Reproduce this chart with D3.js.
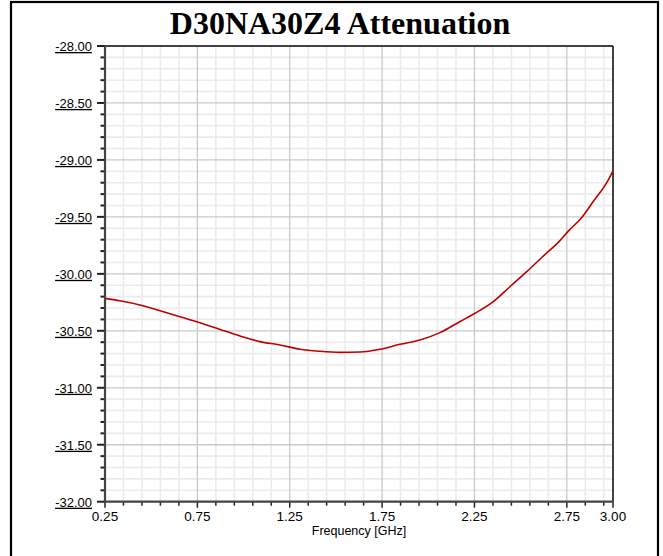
<!DOCTYPE html>
<html><head><meta charset="utf-8">
<script src="https://cdn.jsdelivr.net/npm/d3@7"></script>
<style>body{margin:0;background:#fff}svg{display:block}</style>
</head><body>
<svg id="c" width="663" height="556"></svg>
<script>
const title = "D30NA30Z4 Attenuation";
const xLabel = "Frequency [GHz]";
const xTickValues = [0.25, 0.75, 1.25, 1.75, 2.25, 2.75, 3.00];
const yTickValues = [-28, -28.5, -29, -29.5, -30, -30.5, -31, -31.5, -32];
const freq = [0.25,0.331,0.439,0.548,0.656,0.764,0.873,0.981,1.089,1.197,1.306,1.414,1.522,1.630,1.739,1.847,1.955,2.063,2.172,2.253,2.352,2.442,2.533,2.623,2.713,2.758,2.831,2.893,2.966,3.0];
const atten = [-30.215,-30.236,-30.273,-30.323,-30.376,-30.429,-30.488,-30.545,-30.595,-30.624,-30.662,-30.680,-30.689,-30.686,-30.662,-30.618,-30.581,-30.516,-30.418,-30.346,-30.244,-30.113,-29.981,-29.843,-29.708,-29.625,-29.505,-29.365,-29.200,-29.095];

const svg = d3.select("#c");
const L=105, R=613, T=46, B=501.7;
const x = d3.scaleLinear().domain([0.25,3.0]).range([L,R]);
const y = d3.scaleLinear().domain([-32,-28]).range([B,T]);

// outer frame
svg.append("rect").attr("x",11).attr("y",2).attr("width",647).attr("height",600)
  .attr("fill","none").attr("stroke","#000").attr("stroke-width",2.2);

const minorX = d3.range(0,28).map(i=>+(0.25+i*0.1).toFixed(2)).filter(v=>v<=3.0).concat([3.0]);
const minorY = d3.range(0,41).map(i=>+(-32+i*0.1).toFixed(2));
const isMajorX = v => xTickValues.some(m=>Math.abs(m-v)<1e-6);
const isMajorY = v => yTickValues.some(m=>Math.abs(m-v)<1e-6);

const g = svg.append("g");
// minor grid
g.selectAll(".mgx").data(minorX.filter(v=>!isMajorX(v))).join("line")
  .attr("x1",d=>x(d)).attr("x2",d=>x(d)).attr("y1",T).attr("y2",B)
  .attr("stroke","#ebebeb").attr("stroke-width",1.6);
g.selectAll(".mgy").data(minorY.filter(v=>!isMajorY(v))).join("line")
  .attr("y1",d=>y(d)).attr("y2",d=>y(d)).attr("x1",L).attr("x2",R)
  .attr("stroke","#ebebeb").attr("stroke-width",1.6);
// major grid
g.selectAll(".Mgx").data(xTickValues).join("line")
  .attr("x1",d=>x(d)).attr("x2",d=>x(d)).attr("y1",T).attr("y2",B)
  .attr("stroke","#cacaca").attr("stroke-width",1.3);
g.selectAll(".Mgy").data(yTickValues).join("line")
  .attr("y1",d=>y(d)).attr("y2",d=>y(d)).attr("x1",L).attr("x2",R)
  .attr("stroke","#cacaca").attr("stroke-width",1.3);

// plot border top/right
svg.append("line").attr("x1",L).attr("x2",R).attr("y1",T).attr("y2",T).attr("stroke","#111").attr("stroke-width",1.5);
svg.append("line").attr("x1",R).attr("x2",R).attr("y1",T).attr("y2",B).attr("stroke","#111").attr("stroke-width",1.5);

// data line
const line = d3.line().x((d,i)=>x(freq[i])).y(d=>y(d)).curve(d3.curveMonotoneX);
svg.append("path").attr("d",line(atten)).attr("fill","none").attr("stroke","#c00000").attr("stroke-width",1.6);

// y axis
const ya = svg.append("g").attr("transform",`translate(${L},0)`);
ya.selectAll(".yt").data(minorY).join("line")
  .attr("x1",d=>isMajorY(d)?-8:-4.5).attr("x2",0).attr("y1",d=>y(d)).attr("y2",d=>y(d))
  .attr("stroke","#222").attr("stroke-width",2);
ya.append("line").attr("x1",0).attr("x2",0).attr("y1",T).attr("y2",B+1).attr("stroke","#444").attr("stroke-width",2.2);
ya.selectAll(".yl").data(yTickValues).join("text")
  .attr("x",-13).attr("y",d=>y(d)+5).attr("text-anchor","end")
  .attr("font-family","Liberation Sans, Arial, sans-serif").attr("font-size",13)
  .attr("text-decoration","underline").attr("fill","#000")
  .text(d=>d.toFixed(2));

// x axis
const xa = svg.append("g").attr("transform",`translate(0,${B})`);
xa.selectAll(".xt").data(minorX).join("line")
  .attr("x1",d=>x(d)).attr("x2",d=>x(d)).attr("y1",0).attr("y2",d=>isMajorX(d)?6:4)
  .attr("stroke","#222").attr("stroke-width",1.5);
xa.append("line").attr("x1",L-1).attr("x2",R).attr("y1",0).attr("y2",0).attr("stroke","#444").attr("stroke-width",2.2);
xa.selectAll(".xl").data(xTickValues).join("text")
  .attr("x",d=>x(d)).attr("y",19.5).attr("text-anchor","middle")
  .attr("font-family","Liberation Sans, Arial, sans-serif").attr("font-size",13.5).attr("fill","#000")
  .text(d=>d.toFixed(2));

svg.append("text").attr("x",(L+R)/2).attr("y",535).attr("text-anchor","middle")
  .attr("font-family","Liberation Sans, Arial, sans-serif").attr("font-size",12.5).attr("fill","#000")
  .text(xLabel);

svg.append("text").attr("x",340).attr("y",34).attr("text-anchor","middle")
  .attr("font-family","Liberation Serif, Times New Roman, serif").attr("font-weight","bold").attr("font-size",32)
  .attr("fill","#000").text(title);
</script>
</body></html>
